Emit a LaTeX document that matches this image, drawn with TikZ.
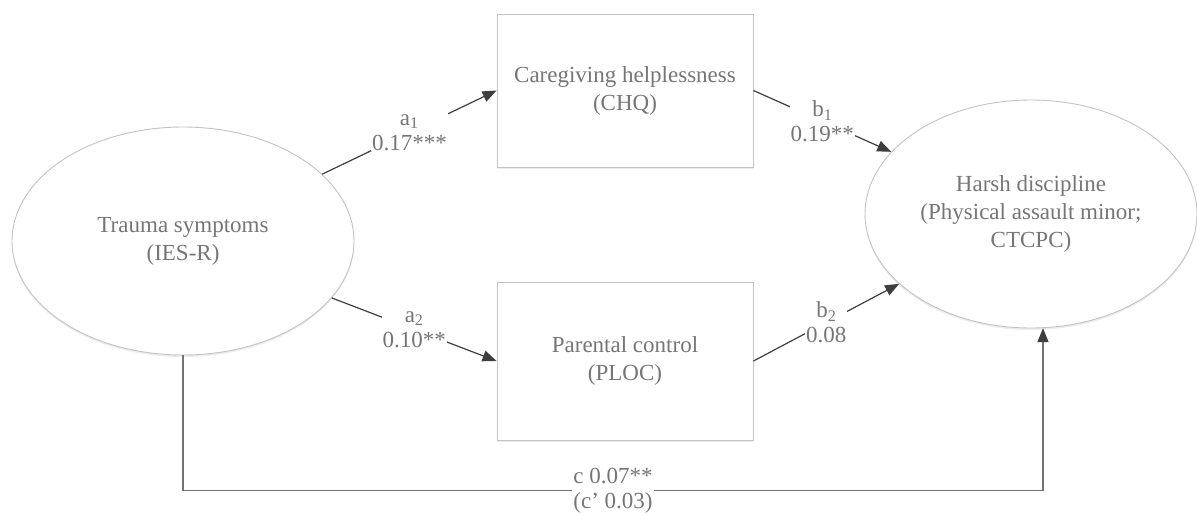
\documentclass[tikz,border=0pt]{standalone}
\usepackage{fontspec}
\setmainfont{Liberation Serif}
\usetikzlibrary{shapes.geometric,arrows.meta,shadows}
\definecolor{txtgray}{RGB}{118,118,118}
\definecolor{rimgray}{RGB}{195,195,195}
\definecolor{arrgray}{RGB}{62,62,62}
\definecolor{basegray}{RGB}{115,115,115}
\tikzset{
  construct/.style={draw=rimgray,line width=0.9pt,fill=white,text=txtgray,align=center,
    font=\fontsize{23}{28}\selectfont,inner sep=0pt,
    drop shadow={shadow xshift=0pt,shadow yshift=-2pt,fill=cyan!25!gray,opacity=0.18}},
  latent/.style={construct,ellipse},
  observed/.style={construct,rectangle},
  effect/.style={draw=arrgray,line width=1.2pt,-{Triangle[length=14pt,width=11pt,color=arrgray]}},
  coef/.style={fill=white,text=txtgray,align=center,font=\fontsize{23}{25}\selectfont,inner sep=1pt}
}
\begin{document}
\begin{tikzpicture}[x=1pt,y=-1pt]
\useasboundingbox (0,0) rectangle (1197,515);
\node at(183,241)[latent,minimum width=342pt,minimum height=228pt](trauma){Trauma symptoms\\(IES-R)};
\node at(625,90.5)[observed,minimum width=256pt,minimum height=153pt](care){Caregiving helplessness\\(CHQ)};
\node at(625,361)[observed,minimum width=256pt,minimum height=158pt](ploc){Parental control\\(PLOC)};
\node at(1031,214)[latent,minimum width=332pt,minimum height=228pt](harsh){Harsh discipline\\(Physical assault minor;\\CTCPC)};
\draw[effect] (trauma) -- node[coef]{a\textsubscript{1}\\0.17***} (care.west);
\draw[effect] (trauma) -- node[coef]{a\textsubscript{2}\\0.10**} (ploc.west);
\draw[effect] (care.east) -- node[coef]{b\textsubscript{1}\\0.19**} (harsh);
\draw[effect] (ploc.east) -- node[coef]{b\textsubscript{2}\\0.08} (harsh);
\draw[effect,draw=basegray,line width=1.6pt] (trauma.south) -- ++(0,135)
    -| node[coef,pos=0.25]{c 0.07**\\(c' 0.03)} (harsh.-84.5);
\end{tikzpicture}
\end{document}
